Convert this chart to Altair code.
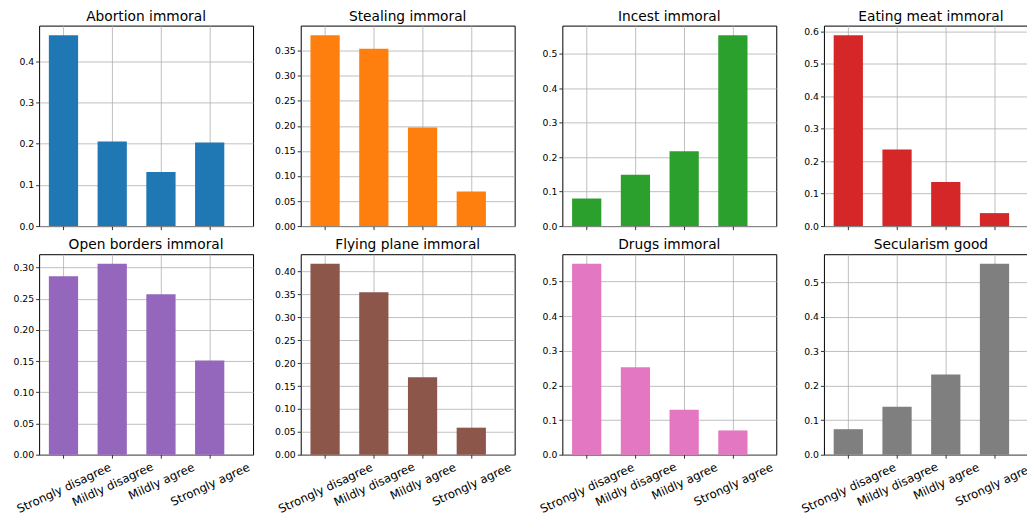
import altair as alt
import pandas as pd

categories = ["Strongly disagree", "Mildly disagree", "Mildly agree", "Strongly agree"]
titles = ["Abortion immoral", "Stealing immoral", "Incest immoral", "Eating meat immoral",
          "Open borders immoral", "Flying plane immoral", "Drugs immoral", "Secularism good"]

abortion = [0.463, 0.205, 0.131, 0.203]
stealing = [0.381, 0.354, 0.197, 0.069]
incest = [0.080, 0.149, 0.217, 0.554]
eating_meat = [0.588, 0.236, 0.136, 0.040]
open_borders = [0.286, 0.306, 0.257, 0.151]
flying_plane = [0.417, 0.355, 0.169, 0.059]
drugs = [0.551, 0.252, 0.130, 0.070]
secularism = [0.074, 0.139, 0.233, 0.554]
series = [abortion, stealing, incest, eating_meat, open_borders, flying_plane, drugs, secularism]

colors = ["#1f77b4", "#ff7f0e", "#2ca02c", "#d62728", "#9467bd", "#8c564b", "#e377c2", "#7f7f7f"]

ticks_1 = [0.0, 0.1, 0.2, 0.3, 0.4]
ticks_2 = [0.0, 0.05, 0.10, 0.15, 0.20, 0.25, 0.30, 0.35]
ticks_3 = [0.0, 0.1, 0.2, 0.3, 0.4, 0.5]
ticks_4 = [0.0, 0.1, 0.2, 0.3, 0.4, 0.5, 0.6]
ticks_5 = [0.0, 0.05, 0.10, 0.15, 0.20, 0.25, 0.30]
ticks_6 = [0.0, 0.05, 0.10, 0.15, 0.20, 0.25, 0.30, 0.35, 0.40]
ticks_7 = [0.0, 0.1, 0.2, 0.3, 0.4, 0.5]
ticks_8 = [0.0, 0.1, 0.2, 0.3, 0.4, 0.5]
tick_sets = [ticks_1, ticks_2, ticks_3, ticks_4, ticks_5, ticks_6, ticks_7, ticks_8]
tick_formats = [".1f", ".2f", ".1f", ".1f", ".2f", ".2f", ".1f", ".1f"]

FONT = "DejaVu Sans"
label_expr = "[" + ",".join("'" + c + "'" for c in categories) + "][datum.value]"
pad_by_label = [29.5, 25.8, 22.8, 25.8]
label_padding = {
    "condition": [{"test": f"datum.value == {i}", "value": p} for i, p in enumerate(pad_by_label[:3])],
    "value": pad_by_label[3],
}


def panel(i):
    vals = series[i]
    bottom = i >= 4
    df = pd.DataFrame({"category": categories, "value": vals, "idx": list(range(len(categories)))})
    if bottom:
        xaxis = alt.Axis(values=[0, 1, 2, 3], labelExpr=label_expr, labelAngle=-25,
                         labelAlign="center", labelBaseline="middle", labelFontSize=11.7,
                         labelOverlap=False, labelBound=False, labelFlush=False,
                         labelPadding=label_padding, tickSize=3.5, title=None)
    else:
        xaxis = alt.Axis(values=[0, 1, 2, 3], labels=False, tickSize=3.5, title=None)
    chart = alt.Chart(df).transform_calculate(
        lo="datum.idx - 0.3", hi="datum.idx + 0.3"
    ).mark_bar(color=colors[i]).encode(
        x=alt.X("lo:Q", scale=alt.Scale(domain=[-0.5, 3.89], nice=False, zero=False), axis=xaxis),
        x2="hi:Q",
        y=alt.Y("value:Q", scale=alt.Scale(domain=[0, 1.05 * max(vals)], nice=False),
                axis=alt.Axis(values=tick_sets[i], format=tick_formats[i], labelFontSize=9.3,
                              labelOverlap=False, labelFlush=False,
                              tickSize=3.5, labelPadding=2, title=None)),
        y2=alt.datum(0),
        tooltip=["category:N", "value:Q"],
    ).properties(
        width=214.5, height=201,
        title=alt.TitleParams(titles[i], fontSize=13.8, font=FONT, fontWeight="normal",
                              color="black", offset=2),
    )
    return chart


chart = alt.concat(*[panel(i) for i in range(8)], columns=4, bounds="flush",
                   spacing={"row": 28.2, "column": 47.3}).properties(
    padding={"left": 4.2, "top": 0, "right": -11.5, "bottom": -1.5},
    background="white",
).configure_view(stroke="black", strokeWidth=1).configure_axis(
    domain=False, grid=True, gridColor="#b0b0b0", gridWidth=0.8,
    tickColor="black", tickWidth=0.8, labelColor="black", labelFont=FONT,
)

chart.save("out.html", embed_options={"renderer": "svg", "actions": False})
